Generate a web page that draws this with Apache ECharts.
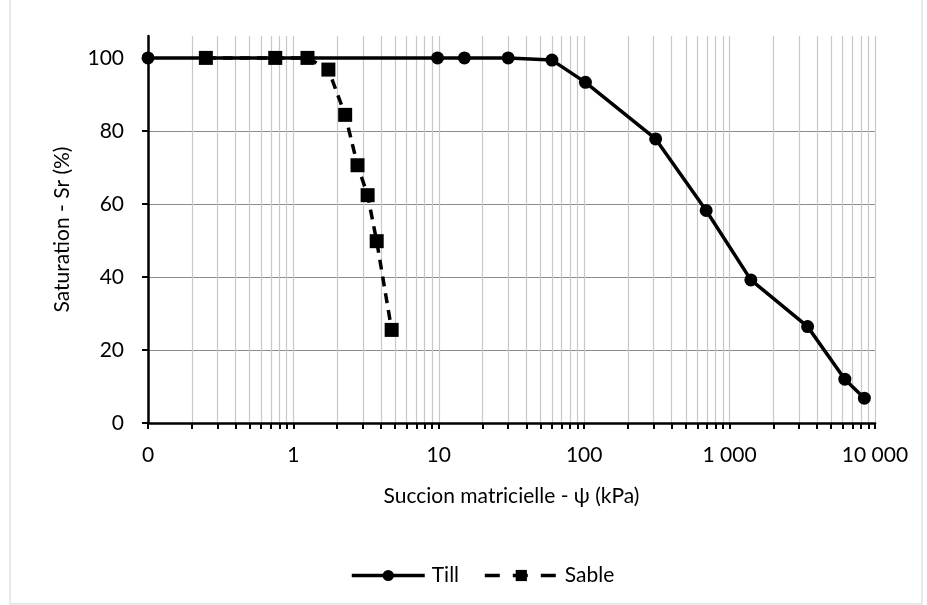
<!DOCTYPE html>
<html><head><meta charset="utf-8">
<script src="https://cdn.jsdelivr.net/npm/echarts@6/dist/echarts.min.js"></script>
<style>html,body{margin:0;padding:0;background:#fff}#c{width:927px;height:605px}</style>
</head><body><div id="c"></div>
<script>
const tillX = [0.1, 9.8, 15, 30, 60, 102, 310, 690, 1400, 3440, 6200, 8450];
const tillY = [100, 100, 100, 100, 99.4, 93.3, 77.8, 58.2, 39.2, 26.4, 12.0, 6.8];
const sableX = [0.25, 0.75, 1.25, 1.74, 2.27, 2.76, 3.24, 3.74, 4.74];
const sableY = [100, 100, 100, 96.8, 84.4, 70.6, 62.4, 49.8, 25.5];
const xMajorTicks = [0.1, 1, 10, 100, 1000, 10000];
const xTickLabels = ['0', '1', '10', '100', '1 000', '10 000'];
const yTicks = [0, 20, 40, 60, 80, 100];

const xAllTicks = [];
for (let d = 0; d < xMajorTicks.length; d++) {
  const b = xMajorTicks[d];
  xAllTicks.push(b);
  if (d < xMajorTicks.length - 1) for (let k = 2; k <= 9; k++) xAllTicks.push(+(b * k).toPrecision(3));
}
const font = 'Lato, "Open Sans", sans-serif';
const fs = 21;
const chart = echarts.init(document.getElementById('c'), null, {renderer: 'canvas'});
chart.setOption({
  animation: false,
  backgroundColor: '#fff',
  graphic: [{type: 'rect', shape: {x: 10, y: -2, width: 912, height: 606}, style: {fill: 'none', stroke: '#e2e2e2', lineWidth: 1.5}, silent: true}],
  grid: {left: 148, right: 52, top: 36, bottom: 182, containLabel: false},
  legend: {
    top: 560, left: 345, itemWidth: 73, itemHeight: 14, itemGap: 24,
    textStyle: {fontFamily: font, fontSize: fs, color: '#000', padding: [0, 0, 0, 2]},
    data: [
      {name: 'Till', lineStyle: {width: 3.5, color: '#000'}},
      {name: 'Sable', lineStyle: {width: 3.5, color: '#000', type: [15, 13]}}
    ]
  },
  xAxis: {
    type: 'log', logBase: 10, min: 0.1, max: 10000,
    name: 'Succion matricielle - ψ (kPa)', nameLocation: 'middle', nameGap: 63,
    nameTextStyle: {fontFamily: font, fontSize: fs, color: '#000'},
    axisLine: {show: true, onZero: false, lineStyle: {color: '#000', width: 2.5}},
    axisTick: {show: true, length: 6, lineStyle: {color: '#000', width: 2}, customValues: xAllTicks},
    axisLabel: {customValues: xMajorTicks, margin: 22, fontFamily: font, fontSize: fs, color: '#000',
      formatter: v => { const i = xMajorTicks.findIndex(m => Math.abs(m - v) / m < 1e-6); return i >= 0 ? xTickLabels[i] : ''; }},
    splitLine: {show: true, lineStyle: {color: '#c8c8c8', width: 1.2}}
  },
  yAxis: {
    type: 'value', min: 0, max: 106, interval: 20,
    name: 'Saturation - Sr (%)', nameLocation: 'middle', nameGap: 75,
    nameTextStyle: {fontFamily: font, fontSize: fs, color: '#000'},
    axisLine: {show: true, lineStyle: {color: '#000', width: 2.5}},
    axisTick: {show: true, length: 6, lineStyle: {color: '#000', width: 2}, customValues: yTicks},
    axisLabel: {customValues: yTicks, margin: 24, fontFamily: font, fontSize: fs, color: '#000'},
    splitLine: {show: true, showMaxLine: false, lineStyle: {color: '#8c8c8c', width: 1.2}}
  },
  series: [
    {name: 'Till', type: 'line', data: tillX.map((x, i) => [x, tillY[i]]),
     symbol: 'circle', symbolSize: 13, clip: false,
     lineStyle: {color: '#000', width: 3.5}, itemStyle: {color: '#000'}, z: 3},
    {name: 'Sable', type: 'line', data: sableX.map((x, i) => [x, sableY[i]]),
     symbol: 'rect', symbolSize: 14, clip: false,
     lineStyle: {color: '#000', width: 3.5, type: [10, 7]}, itemStyle: {color: '#000'}, z: 4}
  ]
});
</script></body></html>
